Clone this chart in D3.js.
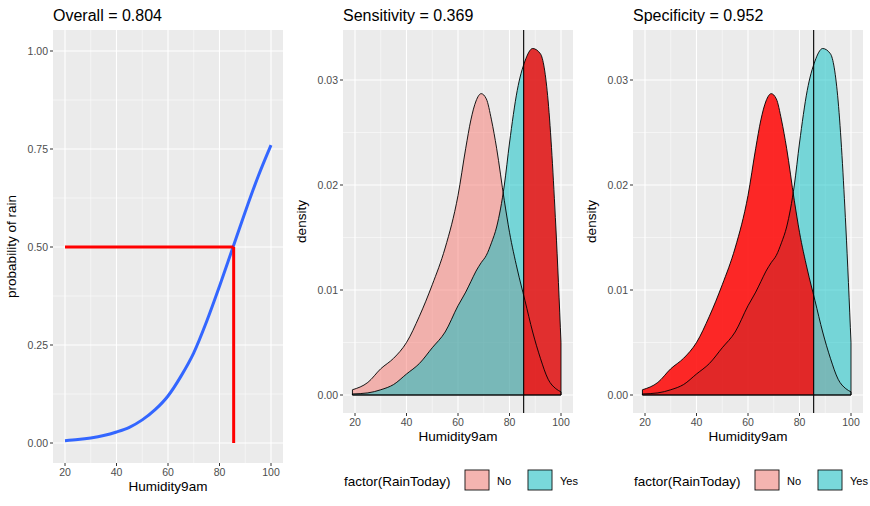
<!DOCTYPE html>
<html><head><meta charset="utf-8">
<script src="https://cdn.jsdelivr.net/npm/d3@7.9.0/dist/d3.min.js"></script>
<style>body{margin:0;background:#fff}text{font-family:"Liberation Sans",Arial,sans-serif}</style>
</head><body><svg width="870" height="506"></svg>
<script>
// data
const humidity = [20, 25, 30, 35, 40, 45, 50, 55, 60, 65, 70, 75, 80, 85, 90, 95, 100];
const probRain = [0.006, 0.0088, 0.013, 0.019, 0.028, 0.04, 0.059, 0.085, 0.12, 0.17, 0.23, 0.31, 0.4, 0.495, 0.59, 0.68, 0.76];
const densX = [19, 25, 30, 35, 40, 45, 50, 55, 60, 63, 65, 67, 69, 71, 73, 75, 78, 80, 83, 86, 89, 92, 95, 98, 100];
const densNo = [0.0005, 0.0012, 0.0025, 0.0035, 0.005, 0.0075, 0.0105, 0.014, 0.019, 0.0235, 0.0262, 0.028, 0.0287, 0.0282, 0.0262, 0.0235, 0.0185, 0.0155, 0.012, 0.009, 0.006, 0.0035, 0.0015, 0.0006, 0.0003];
const densYes = [0.0001, 0.0002, 0.0005, 0.001, 0.002, 0.003, 0.0045, 0.006, 0.0085, 0.0098, 0.0108, 0.0118, 0.0126, 0.0133, 0.0145, 0.016, 0.02, 0.024, 0.029, 0.0318, 0.033, 0.0325, 0.028, 0.016, 0.005];
const cutoff = 85.5;
const titles = ['Overall = 0.804', 'Sensitivity = 0.369', 'Specificity = 0.952'];
const legendKeys = ['No', 'Yes'];
const fillNo = '#F8766D', fillYes = '#00BFC4';

const svg = d3.select('svg');

function panelBase(x0, x1, y0, y1, x, y, yTicks, yFmt, yLabel, title) {
  const g = svg.append('g');
  g.append('rect').attr('x', x0).attr('y', y0).attr('width', x1 - x0).attr('height', y1 - y0).attr('fill', '#EBEBEB');
  const xt = [20, 40, 60, 80, 100];
  const xm = [30, 50, 70, 90];
  const ym = yTicks.slice(0, -1).map((d, i) => (d + yTicks[i + 1]) / 2);
  xm.forEach(v => g.append('line').attr('x1', x(v)).attr('x2', x(v)).attr('y1', y0).attr('y2', y1).attr('stroke', '#fff').attr('stroke-width', 0.5));
  ym.forEach(v => g.append('line').attr('y1', y(v)).attr('y2', y(v)).attr('x1', x0).attr('x2', x1).attr('stroke', '#fff').attr('stroke-width', 0.5));
  xt.forEach(v => g.append('line').attr('x1', x(v)).attr('x2', x(v)).attr('y1', y0).attr('y2', y1).attr('stroke', '#fff').attr('stroke-width', 1.1));
  yTicks.forEach(v => g.append('line').attr('y1', y(v)).attr('y2', y(v)).attr('x1', x0).attr('x2', x1).attr('stroke', '#fff').attr('stroke-width', 1.1));
  xt.forEach(v => {
    g.append('line').attr('x1', x(v)).attr('x2', x(v)).attr('y1', y1).attr('y2', y1 + 3).attr('stroke', '#333');
    g.append('text').attr('x', x(v)).attr('y', y1 + 13).attr('text-anchor', 'middle').attr('font-size', 10.5).attr('fill', '#4D4D4D').text(v);
  });
  yTicks.forEach(v => {
    g.append('line').attr('x1', x0 - 3).attr('x2', x0).attr('y1', y(v)).attr('y2', y(v)).attr('stroke', '#333');
    g.append('text').attr('x', x0 - 5).attr('y', y(v) + 3.5).attr('text-anchor', 'end').attr('font-size', 10.5).attr('fill', '#4D4D4D').text(yFmt(v));
  });
  g.append('text').attr('x', (x0 + x1) / 2).attr('y', y1 + 28).attr('text-anchor', 'middle').attr('font-size', 13.5).text('Humidity9am');
  g.append('text').attr('transform', `translate(${x0 - 37},${(y0 + y1) / 2}) rotate(-90)`).attr('text-anchor', 'middle').attr('font-size', 13.5).text(yLabel);
  g.append('text').attr('x', x0).attr('y', 21).attr('font-size', 16).text(title);
  return g;
}

// panel 1
{
  const x = d3.scaleLinear().domain([20, 100]).range([65, 271]);
  const y = d3.scaleLinear().domain([0, 1]).range([443, 51]);
  const g = panelBase(53, 283, 30, 463, x, y, [0, 0.25, 0.5, 0.75, 1], d3.format('.2f'), 'probability of rain', titles[0]);
  g.append('path').datum(humidity.map((h, i) => [h, probRain[i]]))
    .attr('d', d3.line().x(d => x(d[0])).y(d => y(d[1])).curve(d3.curveMonotoneX))
    .attr('fill', 'none').attr('stroke', '#3366FF').attr('stroke-width', 3);
  g.append('line').attr('x1', x(20)).attr('x2', x(cutoff)).attr('y1', y(0.5)).attr('y2', y(0.5)).attr('stroke', 'red').attr('stroke-width', 3);
  g.append('line').attr('x1', x(cutoff)).attr('x2', x(cutoff)).attr('y1', y(0.5)).attr('y2', y(0)).attr('stroke', 'red').attr('stroke-width', 3);
}

function densPanel(off, title, redSeries, redLeft) {
  const x = d3.scaleLinear().domain([20, 100]).range([355 + off, 561 + off]);
  const y = d3.scaleLinear().domain([0, 0.03]).range([395, 80]);
  const g = panelBase(343 + off, 573 + off, 30, 413, x, y, [0, 0.01, 0.02, 0.03], d3.format('.2f'), 'density', title);
  const area = d3.area().x(d => x(d[0])).y0(y(0)).y1(d => y(d[1])).curve(d3.curveMonotoneX);
  const line = d3.line().x(d => x(d[0])).y(d => y(d[1])).curve(d3.curveMonotoneX);
  const no = densX.map((h, i) => [h, densNo[i]]);
  const yes = densX.map((h, i) => [h, densYes[i]]);
  g.append('path').attr('d', area(no)).attr('fill', fillNo).attr('opacity', 0.5);
  g.append('path').attr('d', area(yes)).attr('fill', fillYes).attr('opacity', 0.5);
  const clipId = 'clip' + off;
  g.append('clipPath').attr('id', clipId).append('rect')
    .attr('x', redLeft ? 343 + off : x(cutoff)).attr('y', 30)
    .attr('width', redLeft ? x(cutoff) - 343 - off : 573 + off - x(cutoff)).attr('height', 383);
  g.append('path').attr('d', area(redSeries === 'no' ? no : yes)).attr('fill', 'red').attr('opacity', 0.78).attr('clip-path', `url(#${clipId})`);
  [no, yes].forEach(s => g.append('path').attr('d', line(s) + `L${x(100)},${y(0)}L${x(19)},${y(0)}Z`).attr('fill', 'none').attr('stroke', '#000').attr('stroke-width', 0.9));
  g.append('line').attr('x1', x(cutoff)).attr('x2', x(cutoff)).attr('y1', 30).attr('y2', 413).attr('stroke', '#000').attr('stroke-width', 1.1);
  // legend
  const lg = g.append('g').attr('transform', `translate(${off},0)`);
  lg.append('text').attr('x', 344).attr('y', 486).attr('font-size', 13.5).text('factor(RainToday)');
  legendKeys.forEach((k, i) => {
    const lx = 464 + i * 63;
    lg.append('rect').attr('x', lx).attr('y', 469).attr('width', 26).attr('height', 22).attr('fill', '#F2F2F2');
    lg.append('rect').attr('x', lx + 1).attr('y', 470).attr('width', 24).attr('height', 20)
      .attr('fill', i ? fillYes : fillNo).attr('fill-opacity', 0.5).attr('stroke', '#000').attr('stroke-width', 0.8);
    lg.append('text').attr('x', lx + 33).attr('y', 485).attr('font-size', 11).text(k);
  });
}
densPanel(0, titles[1], 'yes', false);
densPanel(290, titles[2], 'no', true);
</script></body></html>
